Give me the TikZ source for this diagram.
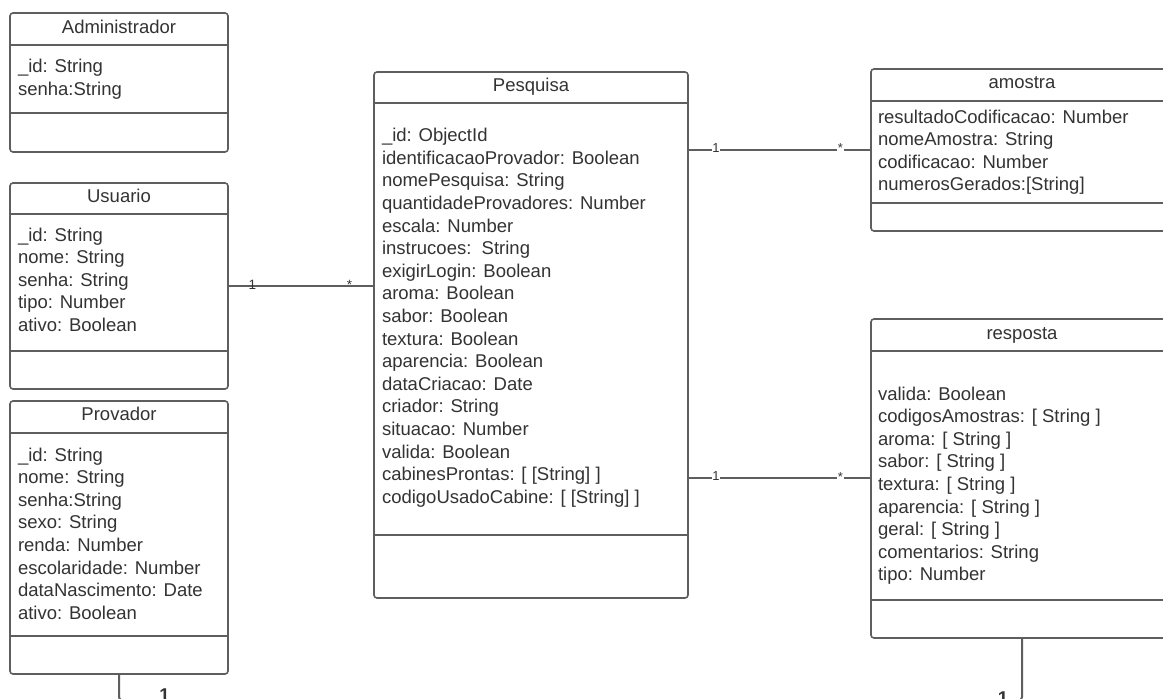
\documentclass[tikz,border=0pt]{standalone}
\usepackage{fontspec}
\setmainfont{Liberation Sans}
\definecolor{linec}{HTML}{5E5E5E}
\definecolor{txtc}{HTML}{333333}
\tikzset{
 umlbox/.style={draw=linec, line width=1.6pt, rounded corners=3pt, fill=white, inner sep=0pt, outer sep=0pt, anchor=north west},
 sepline/.style={draw=linec, line width=1.6pt},
 conn/.style={draw=linec, line width=2pt},
 boxtitle/.style={text=txtc, font=\fontsize{18.5}{22.6}\selectfont, anchor=base, inner sep=0pt},
 attrs/.style={text=txtc, font=\fontsize{18.5}{22.6}\selectfont, align=left, anchor=north west, inner sep=0pt, outer sep=0pt},
 mult/.style={text=txtc, font=\fontsize{13}{15}\selectfont, anchor=base, inner sep=0.8pt},
 multa/.style={text=txtc, font=\fontsize{13.5}{15}\selectfont, anchor=base, inner sep=0pt},
 multb/.style={text=txtc, font=\bfseries\fontsize{18.5}{22}\selectfont, anchor=base, inner sep=0pt},
}
\newcommand{\fs}{\rule{0pt}{15pt}}
\begin{document}
\begin{tikzpicture}[x=1pt,y=-1pt]
\useasboundingbox (0,0) rectangle (1163,699);
\clip (0,0) rectangle (1163,699);
\fill[white] (0,0) rectangle (1163,699);

% Administrador
\node[umlbox, minimum width=218pt, minimum height=139pt] (adm) at (10,13) {};
\draw[sepline] (adm.west |- 0,45) -- (adm.east |- 0,45);
\draw[sepline] (adm.west |- 0,113) -- (adm.east |- 0,113);
\node[boxtitle] (admt) at (119,33.5) {Administrador};
\node[attrs] (adma) at (18,57.5) {\fs\_id: String\\senha:String};

% Usuario
\node[umlbox, minimum width=218pt, minimum height=206pt] (usu) at (10,183) {};
\draw[sepline] (usu.west |- 0,214) -- (usu.east |- 0,214);
\draw[sepline] (usu.west |- 0,351) -- (usu.east |- 0,351);
\node[boxtitle] (usut) at (119,202.7) {Usuario};
\node[attrs] (usua) at (18,226) {\fs\_id: String\\nome: String\\senha: String\\tipo: Number\\ativo: Boolean};

% Provador
\node[umlbox, minimum width=218pt, minimum height=273pt] (prov) at (10,401) {};
\draw[sepline] (prov.west |- 0,433) -- (prov.east |- 0,433);
\draw[sepline] (prov.west |- 0,636) -- (prov.east |- 0,636);
\node[boxtitle] (provt) at (119,420.7) {Provador};
\node[attrs] (prova) at (18,446) {\fs\_id: String\\nome: String\\senha:String\\sexo: String\\renda: Number\\escolaridade: Number\\dataNascimento: Date\\ativo: Boolean};

% Pesquisa
\node[umlbox, minimum width=314pt, minimum height=526pt] (pes) at (374,72) {};
\draw[sepline] (pes.west |- 0,103) -- (pes.east |- 0,103);
\draw[sepline] (pes.west |- 0,535) -- (pes.east |- 0,535);
\node[boxtitle] (pest) at (531,91.7) {Pesquisa};
\node[attrs] (pesa) at (382,126.7) {\fs\_id: ObjectId\\identificacaoProvador: Boolean\\nomePesquisa: String\\quantidadeProvadores: Number\\escala: Number\\instrucoes:\ \ String\\exigirLogin: Boolean\\aroma: Boolean\\sabor: Boolean\\textura: Boolean\\aparencia: Boolean\\dataCriacao: Date\\criador: String\\situacao: Number\\valida: Boolean\\cabinesProntas: [ [String] ]\\codigoUsadoCabine: [ [String] ]};

% amostra
\node[umlbox, minimum width=302pt, minimum height=162pt] (amo) at (871,69) {};
\draw[sepline] (amo.west |- 0,101) -- (amo.east |- 0,101);
\draw[sepline] (amo.west |- 0,203) -- (amo.east |- 0,203);
\node[boxtitle] (amot) at (1022,88.3) {amostra};
\node[attrs] (amoa) at (878,108) {\fs resultadoCodificacao: Number\\nomeAmostra: String\\codificacao: Number\\numerosGerados:[String]};

% resposta
\node[umlbox, minimum width=302pt, minimum height=319pt] (res) at (871,319) {};
\draw[sepline] (res.west |- 0,351) -- (res.east |- 0,351);
\draw[sepline] (res.west |- 0,600) -- (res.east |- 0,600);
\node[boxtitle] (rest) at (1022,339.3) {resposta};
\node[attrs] (resa) at (878,385) {\fs valida: Boolean\\codigosAmostras: [ String ]\\aroma: [ String ]\\sabor: [ String ]\\textura: [ String ]\\aparencia: [ String ]\\geral: [ String ]\\comentarios: String\\tipo: Number};

% connectors
\draw[conn] (usu.east |- 0,286.3) -- (pes.west |- 0,286.3);
\node[multa] (m1) at (252.3,289.3) {1};
\node[multa] (m2) at (349.5,289.3) {*};

\draw[conn] (pes.east |- 0,150) -- (amo.west |- 0,150);
\node[mult, fill=white] (m3) at (716,152) {1};
\node[mult, fill=white] (m4) at (840.5,152.5) {*};

\draw[conn] (pes.east |- 0,478.3) -- (res.west |- 0,478.3);
\node[mult, fill=white] (m5) at (716,480.5) {1};
\node[mult, fill=white] (m6) at (840.5,481) {*};

\draw[conn, rounded corners=4pt] (prov.south) -- (prov.south |- 0,701) -- (res.south |- 0,701) -- (res.south);
\node[multb] (m7) at (164.5,701.3) {1};
\node[multb] (m8) at (1003,704.3) {1};
\end{tikzpicture}
\end{document}
